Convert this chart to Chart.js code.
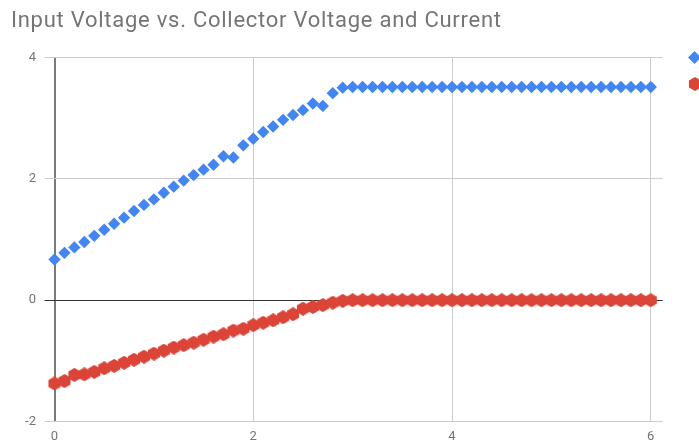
<!DOCTYPE html>
<html>
<head>
<meta charset="utf-8">
<title>Input Voltage vs. Collector Voltage and Current</title>
<script src="https://cdn.jsdelivr.net/npm/chart.js@4/dist/chart.umd.min.js"></script>
<style>
  html, body { margin: 0; padding: 0; background: #ffffff; overflow: hidden; }
  #wrap { position: relative; width: 699px; height: 443px; overflow: hidden; }
  #title { position: absolute; left: 11px; top: 7px; font: 22px/26px Roboto, sans-serif; color: #757575; white-space: nowrap; }
  #legend { position: absolute; left: 688px; top: 50px; font: 13px Roboto, sans-serif; color: #222222; white-space: nowrap; }
  #legend .item { display: flex; align-items: center; height: 14px; margin-bottom: 13px; }
  #legend .item canvas { margin-right: 6px; flex: none; }
</style>
</head>
<body>
<div id="wrap">
  <canvas id="chart" width="699" height="443"></canvas>
  <div id="title"></div>
  <div id="legend"></div>
</div>
<script>
// Input voltage (V), one reading every 0.1 V
const inputVoltage = [
  0.0, 0.1, 0.2, 0.3, 0.4, 0.5, 0.6, 0.7, 0.8, 0.9,
  1.0, 1.1, 1.2, 1.3, 1.4, 1.5, 1.6, 1.7, 1.8, 1.9,
  2.0, 2.1, 2.2, 2.3, 2.4, 2.5, 2.6, 2.7, 2.8, 2.9,
  3.0, 3.1, 3.2, 3.3, 3.4, 3.5, 3.6, 3.7, 3.8, 3.9,
  4.0, 4.1, 4.2, 4.3, 4.4, 4.5, 4.6, 4.7, 4.8, 4.9,
  5.0, 5.1, 5.2, 5.3, 5.4, 5.5, 5.6, 5.7, 5.8, 5.9,
  6.0
];

// Collector voltage readings
const collectorVoltage = [
  0.67, 0.78, 0.87, 0.96, 1.06, 1.16, 1.26, 1.36, 1.47, 1.57,
  1.66, 1.77, 1.87, 1.97, 2.06, 2.15, 2.23, 2.37, 2.35, 2.55,
  2.66, 2.77, 2.86, 2.97, 3.05, 3.13, 3.24, 3.20, 3.41, 3.50,
  3.51, 3.51, 3.51, 3.51, 3.51, 3.51, 3.51, 3.51, 3.51, 3.51,
  3.51, 3.51, 3.51, 3.51, 3.51, 3.51, 3.51, 3.51, 3.51, 3.51,
  3.51, 3.51, 3.51, 3.51, 3.51, 3.51, 3.51, 3.51, 3.51, 3.51,
  3.51
];

// Collector current readings
const collectorCurrent = [
  -1.37, -1.33, -1.23, -1.22, -1.18, -1.12, -1.08, -1.03, -0.98, -0.93,
  -0.88, -0.83, -0.78, -0.74, -0.70, -0.65, -0.60, -0.56, -0.50, -0.47,
  -0.41, -0.37, -0.33, -0.28, -0.23, -0.14, -0.11, -0.08, -0.04, -0.01,
  0.00, 0.00, 0.00, 0.00, 0.00, 0.00, 0.00, 0.00, 0.00, 0.00,
  0.00, 0.00, 0.00, 0.00, 0.00, 0.00, 0.00, 0.00, 0.00, 0.00,
  0.00, 0.00, 0.00, 0.00, 0.00, 0.00, 0.00, 0.00, 0.00, 0.00,
  0.00
];

const titleText = 'Input Voltage vs. Collector Voltage and Current';
const seriesNames = ['Collector Voltage', 'Collector Current'];
const xTicks = [0, 2, 4, 6];
const yTicks = [-2, 0, 2, 4];

const BLUE = '#4285F4';
const RED = '#DB4437';
const LABEL_GREY = '#757575';
const GRID_GREY = '#cccccc';

// Title: 22px Roboto, tracked so the line spans TITLE_WIDTH pixels
const TITLE_WIDTH = 490;
const titleEl = document.getElementById('title');
titleEl.textContent = titleText;
const measure = document.createElement('canvas').getContext('2d');
measure.font = '22px Roboto';
const naturalWidth = measure.measureText(titleText).width;
titleEl.style.letterSpacing = Math.max(0, (TITLE_WIDTH - naturalWidth) / (titleText.length - 1)) + 'px';

// Small canvas glyphs used as point styles (hexagon) and legend swatches
function glyph(shape, color, size) {
  const c = document.createElement('canvas');
  c.width = size; c.height = size;
  const g = c.getContext('2d');
  const r = size / 2;
  g.fillStyle = color;
  g.beginPath();
  if (shape === 'hexagon') {
    // pointy-top hexagon
    for (let i = 0; i < 6; i++) {
      const a = Math.PI / 3 * i - Math.PI / 2;
      const px = r + r * Math.cos(a), py = r + r * Math.sin(a);
      if (i === 0) g.moveTo(px, py); else g.lineTo(px, py);
    }
  } else {
    g.moveTo(r, 0); g.lineTo(size, r); g.lineTo(r, size); g.lineTo(0, r);
  }
  g.closePath();
  g.fill();
  return c;
}

const hexPoint = glyph('hexagon', RED, 14);

const toPoints = (ys) => inputVoltage.map((x, i) => ({ x: x, y: ys[i] }));

const chart = new Chart(document.getElementById('chart'), {
  type: 'scatter',
  data: {
    datasets: [
      {
        label: seriesNames[0],
        data: toPoints(collectorVoltage),
        backgroundColor: BLUE,
        borderColor: BLUE,
        pointStyle: 'rectRot',
        pointRadius: 6.2,
        pointBorderWidth: 0,
        pointHoverRadius: 6.2,
        clip: false
      },
      {
        label: seriesNames[1],
        data: toPoints(collectorCurrent),
        backgroundColor: RED,
        borderColor: RED,
        pointStyle: hexPoint,
        pointRadius: 7,
        pointBorderWidth: 0,
        clip: false
      }
    ]
  },
  options: {
    responsive: false,
    animation: false,
    events: [],
    layout: { padding: { left: 11, right: 36.3, top: 57.3, bottom: 0 } },
    plugins: {
      legend: { display: false },
      tooltip: { enabled: false },
      title: { display: false }
    },
    scales: {
      x: {
        type: 'linear',
        min: 0,
        max: 6.12,
        afterBuildTicks: (s) => { s.ticks = xTicks.map(v => ({ value: v })); },
        afterFit: (s) => { s.height = 21.3; },
        border: { display: false },
        grid: {
          drawTicks: false,
          color: (c) => (c.tick && c.tick.value === 0) ? '#7a7a7a' : GRID_GREY,
          lineWidth: (c) => (c.tick && c.tick.value === 0) ? 2 : 1
        },
        ticks: {
          color: LABEL_GREY,
          font: { family: 'Roboto', size: 13 },
          padding: 7,
          maxRotation: 0
        }
      },
      y: {
        type: 'linear',
        min: -2,
        max: 4,
        afterBuildTicks: (s) => { s.ticks = yTicks.map(v => ({ value: v })); },
        afterFit: (s) => { s.width = 43.5; },
        border: { display: false },
        grid: {
          drawTicks: true,
          tickLength: 10,
          color: (c) => (c.tick && c.tick.value === 0) ? '#333333' : GRID_GREY,
          lineWidth: 1
        },
        ticks: {
          color: LABEL_GREY,
          font: { family: 'Roboto', size: 13 },
          padding: 8.5
        }
      }
    }
  }
});

// Legend on the right, built from the chart's datasets
const legendEl = document.getElementById('legend');
const legendGlyphs = ['diamond', 'hexagon'];
chart.data.datasets.forEach((ds, i) => {
  const row = document.createElement('div');
  row.className = 'item';
  row.appendChild(glyph(legendGlyphs[i], ds.backgroundColor, legendGlyphs[i] === 'hexagon' ? 14 : 13));
  const label = document.createElement('span');
  label.textContent = ds.label;
  row.appendChild(label);
  legendEl.appendChild(row);
});
</script>
</body>
</html>
